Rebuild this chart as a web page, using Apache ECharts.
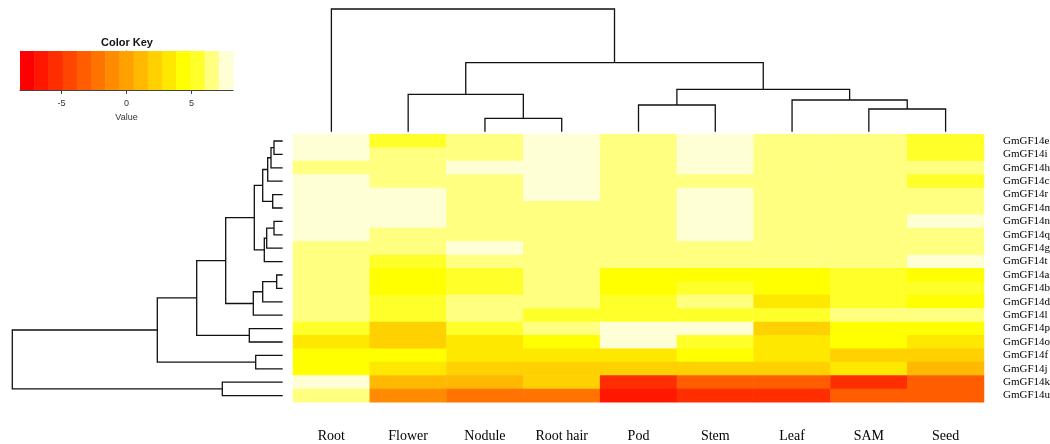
<!DOCTYPE html>
<html>
<head>
<meta charset="utf-8">
<title>GmGF14 expression heatmap</title>
<style>
  html, body, #main {width: 100%; height: 100%; margin: 0; overflow: hidden; background: #fff;}
</style>
</head>
<body>
<div id="main"></div>
<script src="https://cdn.jsdelivr.net/npm/echarts@6/dist/echarts.min.js"></script>
<script>
// columns and rows in the order of the dendrograms
var tissues = ['Root', 'Flower', 'Nodule', 'Root hair', 'Pod', 'Stem', 'Leaf', 'SAM', 'Seed'];
var genes = ['GmGF14e', 'GmGF14i', 'GmGF14h', 'GmGF14c', 'GmGF14r', 'GmGF14m', 'GmGF14n',
             'GmGF14q', 'GmGF14g', 'GmGF14t', 'GmGF14a', 'GmGF14b', 'GmGF14d', 'GmGF14l',
             'GmGF14p', 'GmGF14o', 'GmGF14f', 'GmGF14j', 'GmGF14k', 'GmGF14u'];

// one row per gene, one value per tissue
var expr = [
  [7.6, 5.5, 6.5, 7.7, 6.4, 7.5, 6.6, 6.5, 5.4],
  [7.5, 6.6, 6.4, 7.6, 6.5, 7.6, 6.5, 6.4, 5.5],
  [6.5, 6.4, 7.5, 7.7, 6.5, 7.4, 6.6, 6.5, 6.5],
  [7.6, 6.5, 6.6, 7.5, 6.4, 6.6, 6.5, 6.6, 5.4],
  [7.7, 7.5, 6.5, 7.4, 6.6, 7.6, 6.5, 6.5, 6.4],
  [7.6, 7.6, 6.4, 6.6, 6.5, 7.5, 6.6, 6.5, 6.5],
  [7.5, 7.6, 6.5, 6.5, 6.6, 7.6, 6.5, 6.4, 7.4],
  [7.6, 6.5, 6.6, 6.4, 6.5, 7.5, 6.6, 6.5, 6.6],
  [6.6, 6.5, 7.5, 6.5, 6.4, 6.6, 6.5, 6.6, 6.5],
  [6.4, 5.6, 6.5, 6.6, 6.5, 6.5, 6.4, 6.5, 7.5],
  [6.5, 4.4, 5.5, 6.4, 4.3, 4.5, 4.4, 5.3, 4.4],
  [6.6, 4.5, 5.4, 6.5, 4.4, 5.5, 4.3, 5.4, 5.5],
  [6.5, 5.4, 6.6, 6.5, 5.5, 6.5, 3.3, 5.6, 4.4],
  [6.4, 5.5, 6.5, 5.4, 5.6, 5.5, 5.4, 6.6, 6.5],
  [5.5, 2.2, 5.4, 6.5, 7.8, 7.6, 2.1, 4.5, 4.4],
  [3.3, 2.3, 3.2, 4.4, 7.7, 5.5, 3.4, 4.3, 3.2],
  [4.4, 4.3, 3.3, 3.2, 3.4, 4.4, 3.3, 2.2, 2.3],
  [4.5, 3.2, 2.2, 2.3, 2.1, 2.2, 2.3, 3.3, 1.1],
  [7.6, 1.2, 1.0, 2.2, -5.5, -3.3, -3.2, -5.6, -3.3],
  [6.5, -1.1, -2.2, -2.3, -6.6, -5.4, -5.5, -3.4, -3.2]
];

// hclust style merges: negative = leaf (1-based), positive = earlier merge; third = height
var colMerge = [
  [-3, -4, 13.4], [-8, -9, 22.7], [-5, -6, 26.7], [-7, 2, 31.7],
  [-2, 1, 37.4], [3, 4, 42.4], [5, 6, 69], [-1, 7, 122.7]
];
var rowMerge = [
  [-11, -12, 6], [-1, -2, 8.7], [-7, -8, 8.7], [-5, -6, 10], [2, -3, 11.7],
  [5, -4, 15], [3, -9, 16], [7, -10, 18.4], [6, 4, 20], [1, -13, 20],
  [-17, -18, 27], [9, 8, 28.4], [10, -14, 29.4], [-15, -16, 33.4], [12, 13, 57],
  [-19, -20, 60.4], [15, 14, 86], [17, 11, 125.4], [18, 16, 270.4]
];

var keyMin = -8.2, keyMax = 8.2;
var keyColors = ['#FF0000', '#FF1700', '#FF2E00', '#FF4600', '#FF5D00', '#FF7400', '#FF8B00', '#FFA200',
                 '#FFB900', '#FFD100', '#FFE800', '#FFFF00', '#FFFF2A', '#FFFF80', '#FFFFD5'];
var keyTicks = [-5, 0, 5];

var breaks = keyColors.map(function (c, k) { return keyMin + k * (keyMax - keyMin) / keyColors.length; });
breaks.push(keyMax);

var heatData = [];
expr.forEach(function (row, r) {
  row.forEach(function (v, c) { heatData.push([c, r, v]); });
});

var keyData = keyColors.map(function (c, k) {
  return [breaks[k], breaks[k + 1], (breaks[k] + breaks[k + 1]) / 2];
});

function dendroSegs(merge) {
  var pos = [], ht = [];
  function node(id) { return id < 0 ? [-id - 1, 0] : [pos[id - 1], ht[id - 1]]; }
  return merge.map(function (m, i) {
    var a = node(m[0]), b = node(m[1]);
    pos[i] = (a[0] + b[0]) / 2;
    ht[i] = m[2];
    return [a[0], a[1], b[0], b[1], m[2]];
  });
}

function dendroItem(horizontal) {
  return function (params, api) {
    var pts = [
      [api.value(0), api.value(1)], [api.value(0), api.value(4)],
      [api.value(2), api.value(4)], [api.value(2), api.value(3)]
    ].map(function (p) { return api.coord(horizontal ? [p[1], p[0]] : p); });
    return {type: 'polyline', shape: {points: pts}, style: {stroke: '#111', lineWidth: 1.3, fill: null}};
  };
}

var serif = 'Liberation Serif';
var hidden = {show: false};

var chart = echarts.init(document.getElementById('main'));
chart.setOption({
  animation: false,
  backgroundColor: '#fff',
  graphic: [{
    type: 'text', x: 127, y: 43,
    style: {text: 'Color Key', fontFamily: 'Liberation Sans', fontWeight: 'bold', fontSize: 11,
            fill: '#111', align: 'center', verticalAlign: 'middle'}
  }],
  grid: [
    {left: 20, top: 51, width: 213, height: 39, outerBoundsMode: 'none'},
    {left: 293, top: 134.3, width: 691, height: 268, outerBoundsMode: 'none'},
    {left: 293, top: 9, width: 691, height: 122.7, outerBoundsMode: 'none'},
    {left: 12.3, top: 134.3, width: 270.4, height: 268, outerBoundsMode: 'none'}
  ],
  xAxis: [
    {type: 'value', gridIndex: 0, min: keyMin, max: keyMax,
     name: 'Value', nameLocation: 'middle', nameGap: 23,
     nameTextStyle: {fontFamily: 'Liberation Sans', fontSize: 9, color: '#333'},
     axisLine: {show: true, lineStyle: {color: '#444'}},
     axisTick: {show: true, customValues: keyTicks, length: 4, lineStyle: {color: '#444'}},
     axisLabel: {customValues: keyTicks, margin: 9, fontFamily: 'Liberation Sans', fontSize: 9, color: '#333'},
     splitLine: hidden},
    {type: 'category', gridIndex: 1, data: tissues,
     axisLine: hidden, axisTick: hidden, splitLine: hidden,
     axisLabel: {interval: 0, margin: 27, fontFamily: serif, fontSize: 14, color: '#000'}},
    {type: 'value', gridIndex: 2, min: -0.5, max: 8.5, show: false},
    {type: 'value', gridIndex: 3, min: 0, max: 270.4, inverse: true, show: false}
  ],
  yAxis: [
    {type: 'value', gridIndex: 0, min: 0, max: 1, position: 'right',
     axisLine: {show: true, lineStyle: {color: '#444'}},
     axisTick: hidden, axisLabel: hidden, splitLine: hidden},
    {type: 'category', gridIndex: 1, data: genes, inverse: true, position: 'right',
     axisLine: hidden, axisTick: hidden, splitLine: hidden,
     axisLabel: {interval: 0, margin: 19, fontFamily: serif, fontSize: 11, color: '#000'}},
    {type: 'value', gridIndex: 2, min: 0, max: 122.7, show: false},
    {type: 'value', gridIndex: 3, min: -0.5, max: 19.5, inverse: true, show: false}
  ],
  visualMap: {
    type: 'piecewise', show: false, dimension: 2, seriesIndex: [0, 1],
    pieces: keyColors.map(function (c, k) {
      return {gte: breaks[k], lt: breaks[k + 1] + (k === keyColors.length - 1 ? 0.01 : 0), color: c};
    })
  },
  series: [
    {type: 'heatmap', xAxisIndex: 1, yAxisIndex: 1, data: heatData,
     itemStyle: {borderWidth: 0}, emphasis: {disabled: true}},
    {type: 'custom', xAxisIndex: 0, yAxisIndex: 0, data: keyData, silent: true,
     renderItem: function (params, api) {
       var a = api.coord([api.value(0), 1]), b = api.coord([api.value(1), 0]);
       return {type: 'rect', shape: {x: a[0], y: a[1], width: b[0] - a[0] + 0.5, height: b[1] - a[1]},
               style: {fill: api.visual('color')}};
     }},
    {type: 'custom', xAxisIndex: 2, yAxisIndex: 2, data: dendroSegs(colMerge), silent: true,
     renderItem: dendroItem(false)},
    {type: 'custom', xAxisIndex: 3, yAxisIndex: 3, data: dendroSegs(rowMerge), silent: true,
     renderItem: dendroItem(true)}
  ]
});
</script>
</body>
</html>
